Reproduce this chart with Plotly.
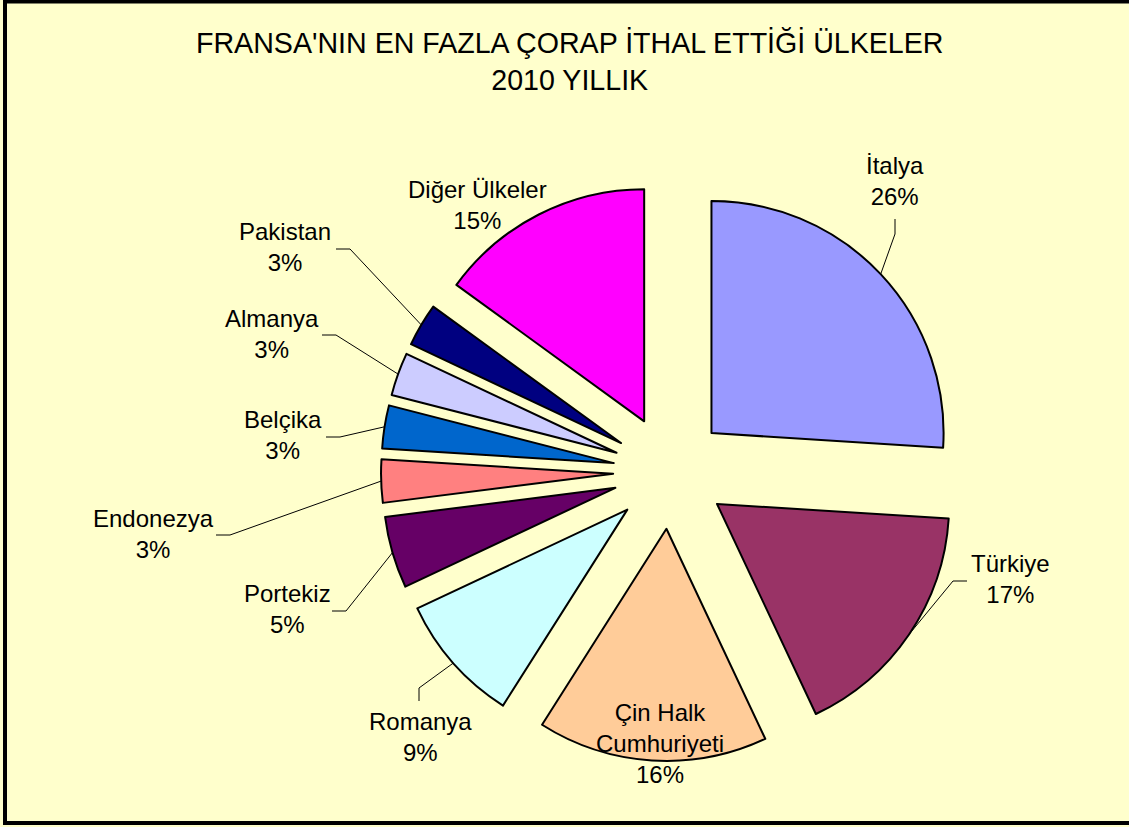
import math
import plotly.graph_objects as go

# data
countries = ["İtalya", "Türkiye", "Çin Halk Cumhuriyeti", "Romanya", "Portekiz",
             "Endonezya", "Belçika", "Almanya", "Pakistan", "Diğer Ülkeler"]
shares = [26, 17, 16, 9, 5, 3, 3, 3, 3, 15]
label_text = ["İtalya", "Türkiye", "Çin Halk<br>Cumhuriyeti", "Romanya", "Portekiz",
              "Endonezya", "Belçika", "Almanya", "Pakistan", "Diğer Ülkeler"]
colors = ["#9999FF", "#993366", "#FFCC99", "#CCFFFF", "#660066",
          "#FF8080", "#0066CC", "#CCCCFF", "#000080", "#FF00FF"]

W, H = 1129, 827
PULL = 0.245
# pie domain in pixels (left, right, top, bottom)
dom_px = (381, 959, 183, 761)

# label block centres and leader stubs (layout, in pixels)
label_pos = [(895, 181), (1010, 579), (660, 743), (420, 737), (287, 609),
             (153, 534), (283, 435), (272, 334), (285, 247), (478, 205)]
leader_stub = [((895, 219), (895, 234)), ((967, 581), (953, 581)), None,
               ((419, 701), (419, 688)), ((332, 611), (346, 611)),
               ((216, 535), (230, 535)), ((326, 437), (340, 437)),
               ((322, 335), (336, 335)), ((336, 249), (350, 249)), None]


def px(x):
    return x / W


def py(y):
    return 1 - y / H


fig = go.Figure()
fig.add_trace(go.Pie(
    labels=countries,
    values=shares,
    sort=False,
    direction="clockwise",
    rotation=0,
    pull=PULL,
    textinfo="none",
    hoverinfo="skip",
    marker=dict(colors=colors, line=dict(color="black", width=2)),
    domain=dict(x=[px(dom_px[0]), px(dom_px[1])], y=[py(dom_px[3]), py(dom_px[2])]),
    showlegend=False,
))

# pie geometry, same as plotly computes it
cx = (dom_px[0] + dom_px[1]) / 2
cy = (dom_px[2] + dom_px[3]) / 2
r = min(dom_px[1] - dom_px[0], dom_px[3] - dom_px[2]) / (2 + 2 * PULL)
total = sum(shares)

shapes = []
annotations = []
cum = 0
for i, v in enumerate(shares):
    mid = (cum + v / 2) / total * 2 * math.pi
    cum += v
    dx, dy = math.sin(mid), -math.cos(mid)
    tip = (cx + dx * r * (1 + PULL), cy + dy * r * (1 + PULL))
    pct = round(v / total * 100)
    annotations.append(dict(
        x=px(label_pos[i][0]), y=py(label_pos[i][1]), xref="paper", yref="paper",
        text=f"{label_text[i]}<br>{pct}%", showarrow=False,
        xanchor="center", yanchor="middle", align="center",
        font=dict(family="Liberation Sans, Arial", size=24, color="black"),
    ))
    if leader_stub[i]:
        (x0, y0), (x1, y1) = leader_stub[i]
        path = f"M {px(x0)} {py(y0)} L {px(x1)} {py(y1)} L {px(tip[0])} {py(tip[1])}"
        shapes.append(dict(type="path", path=path, xref="paper", yref="paper",
                           line=dict(color="black", width=1)))

annotations.append(dict(
    x=px(570), y=py(62), xref="paper", yref="paper",
    text="FRANSA'NIN EN FAZLA ÇORAP İTHAL ETTİĞİ ÜLKELER<br>2010 YILLIK",
    showarrow=False, xanchor="center", yanchor="middle", align="center",
    font=dict(family="Liberation Sans, Arial", size=28.6, color="black"),
))

# chart frame (right edge runs off the page, as in the original)
shapes.append(dict(type="rect", xref="paper", yref="paper",
                   x0=px(5), x1=px(1170), y0=py(823), y1=py(1.5),
                   line=dict(color="black", width=4)))

fig.update_layout(
    width=W, height=H,
    margin=dict(l=0, r=0, t=0, b=0),
    paper_bgcolor="#FFFFCC",
    plot_bgcolor="#FFFFCC",
    shapes=shapes,
    annotations=annotations,
)

fig.write_html("out.html", config={"displayModeBar": False},
               post_script="document.body.style.margin = '0';")
